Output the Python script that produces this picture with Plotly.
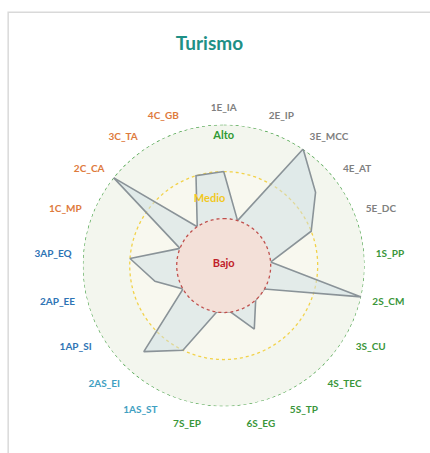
import numpy as np
import plotly.graph_objects as go

# Indicators (clockwise from the top) and their scores on a 0-3 scale
categories = ["1E_IA", "2E_IP", "3E_MCC", "4E_AT", "5E_DC",
              "1S_PP", "2S_CM", "3S_CU", "4S_TEC", "5S_TP", "6S_EG", "7S_EP",
              "1AS_ST", "2AS_EI", "1AP_SI", "2AP_EE", "3AP_EQ",
              "1C_MP", "2C_CA", "3C_TA", "4C_GB"]
values = [2, 1, 3, 2.5, 2,
          1, 3, 1, 1, 1.5, 1, 1,
          2, 2.5, 1, 1.5, 2,
          1, 3, 1, 2]

# Level bands: name, radius, line colour, fill colour, text colour
levels = ["Alto", "Medio", "Bajo"]
level_r = [3, 2, 1]
level_line = ["#3a9a3a", "#f2d24a", "#c0504d"]
level_fill = ["#f3f6ee", "#f8f8ef", "#f3e0d8"]
level_text = ["#2f9a34", "#f2c81e", "#c0202a"]

group_colors = {"E": "#808080", "S": "#3a963a", "AS": "#3f9fc2",
                "AP": "#2e74b5", "C": "#de7a3c"}


def group_of(cat):
    code = cat.split("_")[0]
    return code.lstrip("0123456789")


n = len(categories)
theta = [i * 360.0 / n for i in range(n)]
ticktext = [f"<span style='color:{group_colors[group_of(c)]}'><b>{c}</b></span>"
            for c in categories]

fig = go.Figure()
ring = np.linspace(0, 360, 361)


def add_ring(k):
    fig.add_trace(go.Scatterpolar(
        r=[level_r[k]] * len(ring), theta=ring, mode="lines",
        line=dict(color=level_line[k], width=1.3, dash="dot"),
        fill="toself", fillcolor=level_fill[k],
        hoverinfo="skip", showlegend=False))


# Outer bands behind the profile
add_ring(0)
add_ring(1)

fig.add_trace(go.Scatterpolar(
    r=values + values[:1], theta=theta + theta[:1], mode="lines",
    line=dict(color="#8a9398", width=1.6),
    fill="toself", fillcolor="rgba(205,222,228,0.5)",
    name="Turismo", showlegend=False))

# Inner "Bajo" disc sits on top of the profile
add_ring(2)

# Level names inside their bands
fig.add_trace(go.Scatterpolar(
    r=[2.75, 1.45, 0.03], theta=[0, 348, 0], mode="text",
    text=[f"<b>{t}</b>" for t in levels],
    textfont=dict(color=level_text, size=11, family="Lato"),
    hoverinfo="skip", showlegend=False))

fig.update_layout(
    width=430, height=453,
    margin=dict(l=0, r=0, t=0, b=0),
    paper_bgcolor="white", plot_bgcolor="white",
    font=dict(family="Lato", size=10),
    title=dict(text="<b>Turismo</b>", x=0.487, xanchor="center",
               y=0.905, yanchor="middle",
               font=dict(size=19, color="#1e9086", family="Lato")),
    polar=dict(
        domain=dict(x=[0.187, 0.8535], y=[0.1026, 0.725]),
        bgcolor="rgba(0,0,0,0)",
        radialaxis=dict(range=[0, 3], visible=False, showgrid=False),
        angularaxis=dict(
            rotation=90, direction="clockwise",
            tickmode="array", tickvals=theta, ticktext=ticktext,
            showgrid=False, showline=False,
            ticks="outside", ticklen=9, tickcolor="rgba(0,0,0,0)",
            tickfont=dict(size=10, family="Lato")),
    ),
    shapes=[dict(type="rect", xref="paper", yref="paper",
                 x0=0.019, x1=1.05, y0=-0.05, y1=0.973,
                 line=dict(color="#d9d9d9", width=1.5))],
)

fig.write_html("out.html")
